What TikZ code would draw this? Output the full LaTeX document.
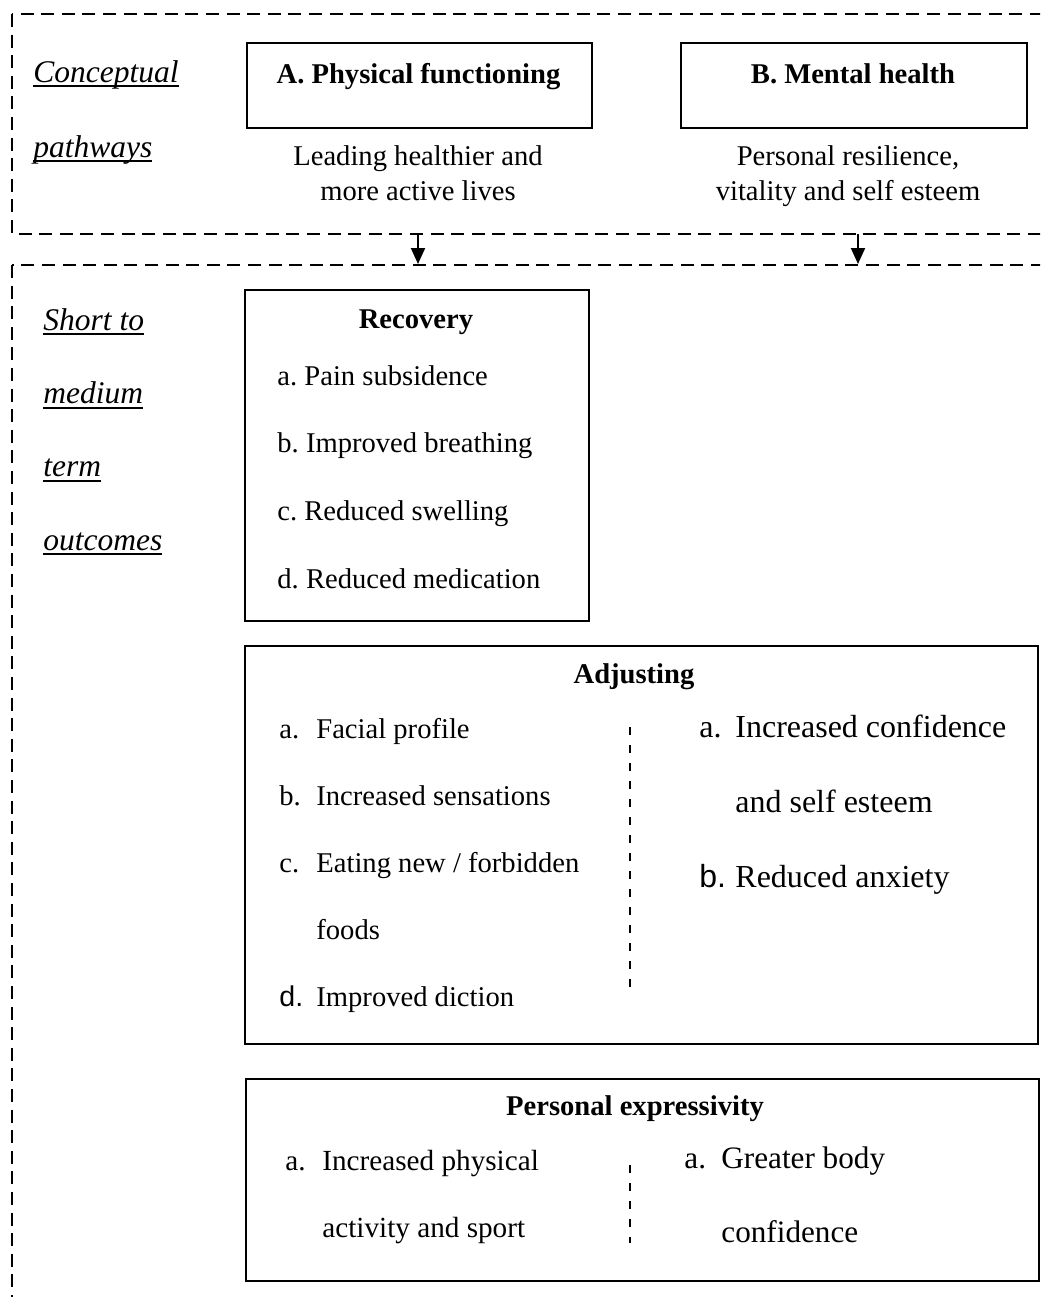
\documentclass[tikz,border=0pt]{standalone}
\usepackage{fontspec}
\setmainfont{Liberation Serif}
\newfontfamily\labsans{Liberation Sans}
\usetikzlibrary{arrows.meta}
\newlength\ulwd
\newcommand\uline[1]{\settowidth\ulwd{#1}#1\hspace{-\ulwd}\rule[-2.6pt]{\ulwd}{1pt}}
\newcommand\itm[3][18.5pt]{\makebox[#1][l]{#2}#3}
\begin{document}
\begin{tikzpicture}[x=0.5pt,y=-0.5pt,>={Triangle[width=7pt,length=8pt]},line join=miter,
    frame/.style={line width=1pt,dash pattern=on 6.5pt off 3.8pt},
    sep/.style={line width=0.7pt,dash pattern=on 4pt off 5pt},
    pane/.style 2 args={draw,line width=1pt,inner sep=0,anchor=north west,minimum width=#1,minimum height=#2},
    txt/.style={font=\fontsize{14.3}{17}\selectfont,inner sep=0,anchor=base west},
    big/.style={txt,font=\fontsize{#1}{19}\selectfont},
    hdr/.style={font=\bfseries\fontsize{14.3}{17}\selectfont,inner sep=0,anchor=base},
    lbl/.style={font=\itshape\fontsize{15.75}{19}\selectfont,inner sep=0,anchor=base west}]
    \useasboundingbox (0,0) rectangle (1040,1297);
    \clip (0,0) rectangle (1040,1297);
    \draw[frame] (12,14) rectangle (1080,234);
    \draw[frame] (12,265) rectangle (1080,1330);
    \node[lbl] (concept-0) at (33,82) {\uline{Conceptual}};
    \node[lbl] (concept-1) at (33,157) {\uline{pathways}};
    \foreach \w [count=\i from 0] in {Short to,medium,term,outcomes}
        \node[lbl] (horizon-\i) at (43,{330+73.4*\i}) {\uline{\w}};
    \node[pane={172.5pt}{42.5pt}] (physical) at (246,42) {};
    \node[pane={173pt}{42.5pt}] (mental) at (680,42) {};
    \node[hdr] (physical-title) at (418.5,83) {A. Physical functioning};
    \node[hdr] (mental-title) at (853,83) {B. Mental health};
    \node[txt,anchor=base] (physical-cap1) at (418,165) {Leading healthier and};
    \node[txt,anchor=base] (physical-cap2) at (418,200) {more active lives};
    \node[txt,anchor=base] (mental-cap1) at (848,165) {Personal resilience,};
    \node[txt,anchor=base] (mental-cap2) at (848,200) {vitality and self esteem};
    \coordinate (outA) at (418,234); \coordinate (inA) at (418,264);
    \coordinate (outB) at (858,234); \coordinate (inB) at (858,264);
    \draw[->,line width=1pt] (outA) -- (inA);
    \draw[->,line width=1pt] (outB) -- (inB);
    \node[pane={172pt}{165.5pt}] (recovery) at (244,289) {};
    \node[hdr] (recovery-title) at (416,328) {Recovery};
    \foreach \t [count=\i from 0] in {a.\ Pain subsidence,b.\ Improved breathing,c.\ Reduced swelling,d.\ Reduced medication}
        \node[txt] (recovery-\i) at (277,{385+67.7*\i}) {\t};
    \node[pane={396.5pt}{199pt}] (adjusting) at (244,645) {};
    \node[hdr] (adjusting-title) at (634,683) {Adjusting};
    \foreach \t [count=\i from 0] in {\itm{a.}{Facial profile},\itm{b.}{Increased sensations},\itm{c.}{Eating new / forbidden},\itm{}{foods},\itm{\labsans d.}{Improved diction}}
        \node[txt] (adjusting-l\i) at (279,{738+67.2*\i}) {\t};
    \draw[sep] (630,727) -- (630,987);
    \foreach \t [count=\i from 0] in {\itm[18pt]{a.}{Increased confidence},\itm[18pt]{}{and self esteem},\itm[18pt]{\labsans b.}{Reduced anxiety}}
        \node[big=16] (adjusting-r\i) at (699,{737+75*\i}) {\t};
    \node[pane={396.5pt}{101pt}] (expressivity) at (245,1078) {};
    \node[hdr] (expressivity-title) at (635,1115) {Personal expressivity};
    \node[big=14.6] (expressivity-l0) at (285,1170) {\itm{a.}{Increased physical}};
    \node[big=14.6] (expressivity-l1) at (285,1237) {\itm{}{activity and sport}};
    \draw[sep] (630,1165) -- (630,1243);
    \node[big=15.6] (expressivity-r0) at (684,1168) {\itm{a.}{Greater body}};
    \node[big=15.6] (expressivity-r1) at (684,1242) {\itm{}{confidence}};
\end{tikzpicture}
\end{document}
